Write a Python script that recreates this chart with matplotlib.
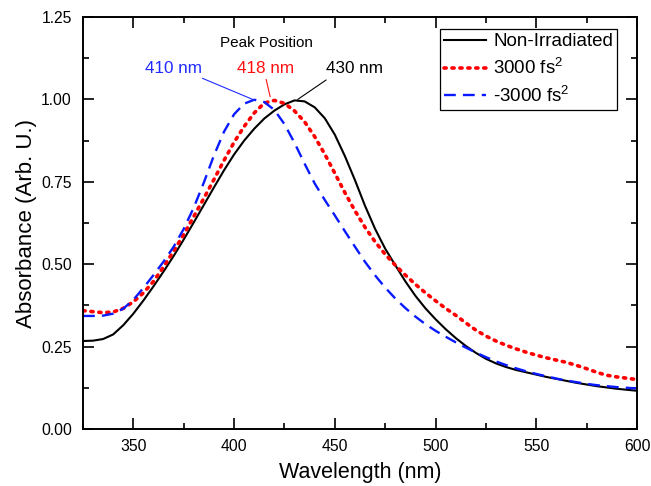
#! /usr/bin/env python3
# Absorbance spectra: non-irradiated vs. chirped-pulse irradiated samples.

import matplotlib.pyplot as plt
from matplotlib.ticker import MultipleLocator

plt.rcParams['font.family'] = ['Liberation Sans', 'DejaVu Sans']

wavelength = list(range(325, 601, 5))

non_irradiated = [
    0.267, 0.268, 0.273, 0.287, 0.315, 0.350, 0.390, 0.433, 0.478, 0.525,
    0.575, 0.627, 0.680, 0.733, 0.785, 0.833, 0.875, 0.911, 0.942, 0.966,
    0.985, 0.997, 0.994, 0.976, 0.943, 0.893, 0.828, 0.755, 0.677, 0.607,
    0.547, 0.497, 0.448, 0.404, 0.366, 0.333, 0.303, 0.276, 0.252, 0.231,
    0.213, 0.199, 0.188, 0.179, 0.172, 0.165, 0.158, 0.152, 0.146, 0.140,
    0.135, 0.130, 0.126, 0.122, 0.119, 0.116,
]

plus_3000 = [
    0.359, 0.356, 0.353, 0.355, 0.366, 0.386, 0.413, 0.448, 0.492, 0.540,
    0.590, 0.645, 0.700, 0.757, 0.815, 0.870, 0.918, 0.959, 0.989, 0.997,
    0.988, 0.965, 0.932, 0.887, 0.834, 0.776, 0.717, 0.662, 0.612, 0.568,
    0.530, 0.497, 0.467, 0.439, 0.413, 0.389, 0.366, 0.345, 0.322, 0.300,
    0.282, 0.267, 0.254, 0.243, 0.233, 0.224, 0.216, 0.209, 0.202, 0.193,
    0.183, 0.172, 0.163, 0.158, 0.154, 0.150,
]

minus_3000 = [
    0.343, 0.343, 0.344, 0.350, 0.365, 0.392, 0.428, 0.467, 0.508, 0.553,
    0.607, 0.672, 0.748, 0.830, 0.902, 0.955, 0.987, 0.999, 0.992, 0.968,
    0.925, 0.868, 0.805, 0.745, 0.695, 0.648, 0.600, 0.553, 0.507, 0.466,
    0.429, 0.396, 0.367, 0.341, 0.318, 0.298, 0.280, 0.263, 0.247, 0.232,
    0.218, 0.205, 0.194, 0.184, 0.175, 0.167, 0.160, 0.153, 0.147, 0.142,
    0.137, 0.133, 0.130, 0.127, 0.125, 0.123,
]

# peak labels: text, colour, label centre x, leader start (x, y), leader end (x, y)
peak_text = ["410 nm", "418 nm", "430 nm"]
peak_color = ["#1f2bff", "#ff1010", "black"]
peak_label_x = [369.8, 415.5, 459.8]
leader_start = [(384.3, 1.064), (415.9, 1.061), (445.7, 1.059)]
leader_end = [(410.0, 0.998), (417.9, 1.008), (431.6, 1.000)]

fig = plt.figure(figsize=(6.51, 4.86), dpi=100)
ax = fig.add_axes([0.1275, 0.1173, 0.851, 0.8477])

ax.plot(wavelength, non_irradiated, color='black', lw=1.5, label="Non-Irradiated")
ax.plot(wavelength, plus_3000, color='#ff0000', lw=2.6, linestyle=(0, (0.6, 1.6)),
        dash_capstyle='round', label=r"3000 fs$^\mathregular{2}$")
ax.plot(wavelength, minus_3000, color='#0a1aff', lw=1.7, linestyle=(0, (5, 3)),
        label=r"-3000 fs$^\mathregular{2}$")

ax.set_xlim(325, 600)
ax.set_ylim(0, 1.25)
ax.xaxis.set_major_locator(MultipleLocator(50))
ax.xaxis.set_minor_locator(MultipleLocator(25))
ax.yaxis.set_major_locator(MultipleLocator(0.25))
ax.yaxis.set_minor_locator(MultipleLocator(0.125))
ax.yaxis.set_major_formatter(plt.FuncFormatter(lambda v, p: f"{v:.2f}"))
ax.tick_params(which='both', direction='in', top=True, right=True,
               labeltop=False, labelright=False, width=1.2)
ax.tick_params(which='major', length=8, labelsize=11.3, pad=8, colors='black')
ax.tick_params(axis='x', which='major', pad=7)
ax.tick_params(which='minor', length=4.5)
for s in ax.spines.values():
    s.set_linewidth(1.4)

ax.set_xlabel("Wavelength (nm)", fontsize=15.5, labelpad=6)
ax.set_ylabel("Absorbance (Arb. U.)", fontsize=16, labelpad=3)

ax.text(416, 1.172, "Peak Position", ha='center', va='center', fontsize=11)
for txt, col, tx, p0, p1 in zip(peak_text, peak_color, peak_label_x,
                                leader_start, leader_end):
    ax.text(tx, 1.095, txt, color=col, fontsize=12.3, ha='center', va='center')
    ax.annotate('', xy=p1, xytext=p0,
                arrowprops=dict(arrowstyle='-', color=col, lw=0.8,
                                shrinkA=0, shrinkB=0))

leg = ax.legend(loc='upper right', bbox_to_anchor=(0.964, 0.971), fontsize=13.5,
                frameon=True, fancybox=False, edgecolor='black', framealpha=1,
                handlelength=2.2, handletextpad=0.4, borderpad=0.22,
                labelspacing=0.38, borderaxespad=0)
leg.get_frame().set_linewidth(0.9)

fig.savefig("out.png", dpi=100)
